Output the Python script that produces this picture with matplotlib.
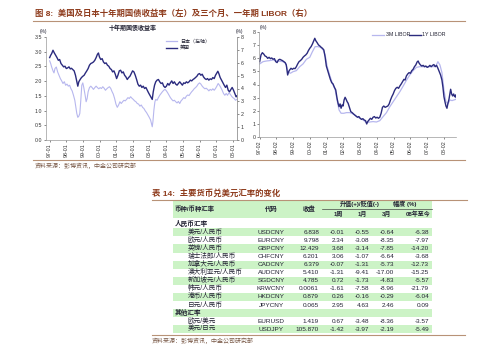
import numpy as np
import matplotlib
matplotlib.use('Agg')
import matplotlib.pyplot as plt
from matplotlib.patches import Rectangle
from matplotlib.lines import Line2D

plt.rcParams['font.family'] = ['Liberation Sans', 'Noto Sans CJK SC']

# ---- left chart: 10y government bond yields ----
us_year = [1997.00, 1997.06, 1997.12, 1997.20, 1997.28, 1997.36, 1997.44, 1997.52, 1997.60, 1997.68,
           1997.76, 1997.84, 1997.92, 1998.00, 1998.08, 1998.16, 1998.24, 1998.31, 1998.39, 1998.47,
           1998.55, 1998.63, 1998.69, 1998.75, 1998.83, 1998.91, 1998.99, 1999.07, 1999.15, 1999.23,
           1999.31, 1999.39, 1999.47, 1999.55, 1999.63, 1999.71, 1999.79, 1999.87, 1999.93, 1999.99,
           2000.07, 2000.15, 2000.23, 2000.31, 2000.39, 2000.47, 2000.55, 2000.63, 2000.71, 2000.78,
           2000.86, 2000.94, 2001.02, 2001.10, 2001.18, 2001.26, 2001.34, 2001.42, 2001.50, 2001.58,
           2001.66, 2001.74, 2001.82, 2001.90, 2001.98, 2002.06, 2002.14, 2002.22, 2002.30, 2002.38,
           2002.46, 2002.54, 2002.62, 2002.70, 2002.78, 2002.86, 2002.94, 2003.02, 2003.10, 2003.16,
           2003.22, 2003.30, 2003.37, 2003.45, 2003.53, 2003.61, 2003.69, 2003.77, 2003.85, 2003.93,
           2004.01, 2004.09, 2004.17, 2004.25, 2004.33, 2004.41, 2004.49, 2004.57, 2004.65, 2004.73,
           2004.81, 2004.89, 2004.97, 2005.05, 2005.13, 2005.21, 2005.29, 2005.37, 2005.45, 2005.53,
           2005.61, 2005.69, 2005.76, 2005.84, 2005.92, 2006.00, 2006.08, 2006.16, 2006.24, 2006.32,
           2006.40, 2006.48, 2006.56, 2006.64, 2006.72, 2006.80, 2006.88, 2006.96, 2007.04, 2007.10,
           2007.16, 2007.24, 2007.32, 2007.40, 2007.48, 2007.56, 2007.64, 2007.72, 2007.80, 2007.88,
           2007.96, 2008.04, 2008.12, 2008.20, 2008.24]
us_yield = [6.40, 6.58, 6.71, 6.97, 6.76, 6.58, 6.40, 6.19, 6.25, 5.94,
            5.81, 5.68, 5.73, 5.55, 5.60, 5.68, 5.52, 5.57, 5.47, 5.37,
            5.03, 4.52, 4.18, 4.52, 4.70, 4.85, 4.95, 5.03, 5.21, 5.37,
            5.55, 5.81, 5.94, 5.99, 6.06, 6.19, 6.40, 6.66, 6.76, 6.45,
            6.25, 6.32, 6.06, 5.94, 5.99, 5.81, 5.73, 5.55, 5.47, 5.29,
            5.37, 5.11, 4.77, 5.03, 5.37, 5.42, 5.21, 5.29, 5.03, 4.90,
            4.70, 4.85, 4.95, 5.16, 5.37, 5.29, 5.03, 4.70, 4.34, 4.18,
            4.26, 4.08, 4.18, 4.00, 4.08, 3.87, 3.66, 3.48, 3.30, 3.15,
            3.74, 4.26, 4.52, 4.65, 4.70, 4.52, 4.39, 4.44, 4.18, 4.08,
            4.18, 4.39, 4.26, 4.44, 4.59, 4.39, 4.52, 4.34, 4.26, 4.39,
            4.52, 4.39, 4.26, 4.44, 4.39, 4.52, 4.44, 4.52, 4.65, 4.59,
            4.70, 4.77, 4.85, 4.95, 5.11, 5.16, 5.03, 5.11, 4.90, 4.77,
            4.70, 4.77, 4.65, 4.75, 4.70, 4.85, 4.77, 5.03, 5.21, 5.34,
            5.16, 4.85, 4.65, 4.44, 4.26, 4.08, 4.26, 3.87, 3.74, 3.92,
            4.08, 3.87, 3.61, 3.35, 3.41]

jp_year = [1997.00, 1997.06, 1997.12, 1997.20, 1997.26, 1997.32, 1997.40, 1997.48, 1997.56, 1997.64,
           1997.72, 1997.80, 1997.88, 1997.96, 1998.04, 1998.12, 1998.20, 1998.27, 1998.35, 1998.43,
           1998.51, 1998.57, 1998.63, 1998.69, 1998.75, 1998.81, 1998.87, 1998.93, 1998.99, 1999.05,
           1999.13, 1999.19, 1999.25, 1999.31, 1999.39, 1999.47, 1999.55, 1999.63, 1999.71, 1999.79,
           1999.87, 1999.95, 2000.03, 2000.11, 2000.19, 2000.27, 2000.35, 2000.43, 2000.51, 2000.59,
           2000.67, 2000.75, 2000.82, 2000.90, 2000.98, 2001.06, 2001.14, 2001.22, 2001.30, 2001.38,
           2001.46, 2001.54, 2001.62, 2001.70, 2001.78, 2001.86, 2001.94, 2002.02, 2002.10, 2002.18,
           2002.26, 2002.34, 2002.42, 2002.50, 2002.58, 2002.66, 2002.74, 2002.82, 2002.90, 2002.98,
           2003.06, 2003.12, 2003.16, 2003.20, 2003.26, 2003.32, 2003.37, 2003.45, 2003.53, 2003.61,
           2003.69, 2003.77, 2003.85, 2003.93, 2004.01, 2004.09, 2004.17, 2004.25, 2004.33, 2004.41,
           2004.49, 2004.57, 2004.65, 2004.73, 2004.81, 2004.89, 2004.97, 2005.05, 2005.13, 2005.21,
           2005.29, 2005.37, 2005.45, 2005.53, 2005.61, 2005.69, 2005.76, 2005.84, 2005.92, 2006.00,
           2006.08, 2006.16, 2006.24, 2006.32, 2006.40, 2006.48, 2006.56, 2006.64, 2006.72, 2006.80,
           2006.88, 2006.96, 2007.04, 2007.12, 2007.20, 2007.28, 2007.36, 2007.44, 2007.52, 2007.60,
           2007.68, 2007.76, 2007.84, 2007.92, 2008.00, 2008.08, 2008.16, 2008.24]
jp_yield = [2.69, 2.60, 2.48, 2.35, 2.28, 2.43, 2.48, 2.31, 2.20, 2.09,
            2.01, 1.92, 1.98, 1.86, 1.90, 1.83, 1.86, 1.75, 1.67, 1.52,
            1.35, 1.13, 0.90, 0.77, 0.81, 0.90, 1.35, 1.86, 1.94, 1.78,
            1.52, 1.30, 1.41, 1.64, 1.78, 1.83, 1.78, 1.72, 1.78, 1.83,
            1.78, 1.74, 1.78, 1.75, 1.81, 1.76, 1.69, 1.74, 1.78, 1.81,
            1.75, 1.64, 1.56, 1.41, 1.22, 1.11, 1.19, 1.30, 1.24, 1.30,
            1.35, 1.33, 1.38, 1.44, 1.41, 1.47, 1.42, 1.38, 1.33, 1.30,
            1.24, 1.22, 1.15, 1.19, 1.11, 1.07, 0.99, 0.93, 0.85, 0.77,
            0.68, 0.54, 0.45, 0.62, 1.02, 1.30, 1.38, 1.35, 1.44, 1.52,
            1.58, 1.64, 1.69, 1.72, 1.67, 1.60, 1.52, 1.44, 1.38, 1.33,
            1.35, 1.30, 1.26, 1.31, 1.24, 1.33, 1.38, 1.44, 1.41, 1.49,
            1.53, 1.51, 1.58, 1.64, 1.69, 1.75, 1.78, 1.83, 1.90, 1.94,
            1.90, 1.83, 1.78, 1.74, 1.76, 1.72, 1.67, 1.72, 1.69, 1.74,
            1.69, 1.75, 1.83, 1.92, 1.86, 1.78, 1.69, 1.58, 1.52, 1.58,
            1.52, 1.60, 1.56, 1.49, 1.44, 1.41, 1.35, 1.38]

left_tick_labels = ['97-01', '98-01', '99-01', '00-01', '01-01', '02-01',
                    '03-01', '04-01', '05-01', '06-01', '07-01', '08-01']

# ---- right chart: LIBOR ----
y1_year = [1997.08, 1997.16, 1997.24, 1997.32, 1997.40, 1997.48, 1997.56, 1997.64, 1997.72, 1997.80,
           1997.88, 1997.96, 1998.04, 1998.12, 1998.20, 1998.28, 1998.36, 1998.44, 1998.52, 1998.60,
           1998.67, 1998.75, 1998.81, 1998.87, 1998.95, 1999.03, 1999.11, 1999.19, 1999.27, 1999.35,
           1999.43, 1999.51, 1999.59, 1999.67, 1999.75, 1999.83, 1999.91, 1999.99, 2000.07, 2000.15,
           2000.23, 2000.31, 2000.37, 2000.43, 2000.51, 2000.59, 2000.67, 2000.75, 2000.83, 2000.91,
           2000.99, 2001.06, 2001.14, 2001.22, 2001.30, 2001.38, 2001.46, 2001.54, 2001.62, 2001.70,
           2001.76, 2001.82, 2001.88, 2001.94, 2002.00, 2002.06, 2002.12, 2002.18, 2002.24, 2002.30,
           2002.36, 2002.44, 2002.52, 2002.60, 2002.68, 2002.76, 2002.84, 2002.92, 2003.00, 2003.08,
           2003.16, 2003.24, 2003.32, 2003.40, 2003.47, 2003.53, 2003.61, 2003.69, 2003.77, 2003.85,
           2003.93, 2004.01, 2004.09, 2004.17, 2004.25, 2004.33, 2004.41, 2004.49, 2004.57, 2004.65,
           2004.73, 2004.81, 2004.89, 2004.97, 2005.05, 2005.13, 2005.21, 2005.29, 2005.37, 2005.45,
           2005.53, 2005.61, 2005.69, 2005.76, 2005.84, 2005.92, 2006.00, 2006.08, 2006.16, 2006.24,
           2006.32, 2006.40, 2006.48, 2006.54, 2006.60, 2006.68, 2006.76, 2006.84, 2006.92, 2007.00,
           2007.08, 2007.16, 2007.24, 2007.32, 2007.40, 2007.48, 2007.56, 2007.64, 2007.72, 2007.80,
           2007.88, 2007.96, 2008.02, 2008.08, 2008.14, 2008.20, 2008.26, 2008.32, 2008.38, 2008.44,
           2008.48, 2008.54, 2008.60, 2008.66, 2008.72, 2008.78, 2008.80]
y1_libor = [5.73, 6.24, 6.41, 6.31, 6.16, 6.11, 5.98, 6.06, 5.96, 6.01,
            5.91, 5.96, 5.73, 5.66, 5.86, 5.91, 5.86, 5.81, 5.73, 5.66,
            5.48, 4.72, 4.97, 5.10, 5.23, 5.15, 5.23, 5.20, 5.35, 5.56,
            5.73, 5.81, 5.91, 6.06, 6.16, 6.24, 6.36, 6.57, 6.74, 6.87,
            7.07, 7.32, 7.50, 7.32, 7.17, 7.00, 6.92, 6.82, 6.74, 6.62,
            6.06, 5.40, 5.05, 4.72, 4.39, 4.14, 4.04, 3.79, 3.59, 2.95,
            2.58, 2.32, 2.53, 2.20, 2.45, 2.37, 2.83, 3.03, 2.88, 2.70,
            2.58, 2.27, 1.94, 1.87, 1.77, 1.69, 1.62, 1.52, 1.57, 1.44,
            1.36, 1.41, 1.31, 1.26, 1.01, 1.19, 1.31, 1.44, 1.36, 1.52,
            1.57, 1.46, 1.52, 1.44, 1.52, 1.82, 2.27, 2.37, 2.27, 2.32,
            2.37, 2.53, 2.83, 3.08, 3.28, 3.54, 3.71, 3.79, 3.71, 3.89,
            4.04, 4.22, 4.39, 4.34, 4.65, 4.80, 4.90, 4.85, 5.05, 5.15,
            5.35, 5.48, 5.71, 5.78, 5.61, 5.48, 5.40, 5.45, 5.35, 5.40,
            5.30, 5.35, 5.45, 5.35, 5.45, 5.51, 5.35, 5.45, 5.23, 4.97,
            4.72, 4.34, 3.79, 3.08, 2.70, 2.37, 2.20, 2.58, 2.88, 3.33,
            3.64, 3.28, 3.13, 3.28, 3.08, 3.21, 3.03]

m3_year = [1997.08, 1997.28, 1997.48, 1997.68, 1997.88, 1998.08, 1998.28, 1998.48, 1998.63, 1998.77,
           1998.91, 1999.07, 1999.27, 1999.47, 1999.67, 1999.87, 2000.07, 2000.23, 2000.39, 2000.55,
           2000.71, 2000.87, 2000.99, 2001.11, 2001.26, 2001.42, 2001.58, 2001.70, 2001.82, 2001.94,
           2002.10, 2002.26, 2002.46, 2002.66, 2002.86, 2003.06, 2003.26, 2003.45, 2003.65, 2003.85,
           2004.05, 2004.25, 2004.45, 2004.65, 2004.85, 2005.05, 2005.25, 2005.45, 2005.65, 2005.85,
           2006.04, 2006.24, 2006.44, 2006.64, 2006.84, 2007.04, 2007.24, 2007.44, 2007.60, 2007.72,
           2007.84, 2007.96, 2008.08, 2008.20, 2008.32, 2008.44, 2008.56, 2008.68, 2008.80]
m3_libor = [5.56, 5.73, 5.78, 5.81, 5.86, 5.78, 5.76, 5.73, 5.61, 4.97,
            4.85, 4.97, 5.05, 5.35, 5.56, 5.91, 6.06, 6.49, 6.87, 6.87,
            6.82, 6.62, 6.24, 5.35, 4.72, 4.09, 3.64, 2.83, 2.07, 1.82,
            1.82, 1.87, 1.87, 1.77, 1.57, 1.44, 1.31, 1.11, 1.16, 1.19,
            1.16, 1.26, 1.57, 1.87, 2.32, 2.70, 3.08, 3.46, 3.89, 4.34,
            4.72, 5.05, 5.30, 5.35, 5.35, 5.35, 5.35, 5.35, 5.40, 5.73,
            5.48, 4.90, 3.59, 2.70, 2.53, 2.83, 2.78, 2.83, 2.88]

right_tick_labels = ['97-02', '98-02', '99-02', '00-02', '01-02', '02-02',
                     '03-02', '04-02', '05-02', '06-02', '07-02', '08-02']

# ---- table ----
groups = ['人民币汇率', '其他汇率']
group_sizes = [10, 2]
pair_names = ['美元/人民币', '欧元/人民币', '英镑/人民币', '瑞士法郎/人民币', '加拿大元/人民币',
              '澳大利亚元/人民币', '新加坡元/人民币', '韩元/人民币', '港币/人民币', '日元/人民币',
              '欧元/美元', '美元/日元']
codes = ['USDCNY', 'EURCNY', 'GBPCNY', 'CHFCNY', 'CADCNY', 'AUDCNY', 'SGDCNY', 'KRWCNY',
         'HKDCNY', 'JPYCNY', 'EURUSD', 'USDJPY']
close = ['6.838', '9.798', '12.429', '6.201', '6.379', '5.410', '4.785', '0.0061',
         '0.879', '0.065', '1.419', '105.870']
chg_1w = ['-0.01', '2.34', '3.68', '3.06', '-0.07', '-1.31', '0.72', '-1.61', '0.26', '2.95', '0.67', '-1.42']
chg_1m = ['-0.55', '-3.08', '-3.14', '-1.07', '-1.31', '-9.41', '-1.73', '-7.58', '-0.16', '4.63', '-3.48', '-3.97']
chg_3m = ['-0.64', '-8.35', '-7.85', '-6.64', '-5.73', '-17.00', '-4.83', '-8.96', '-0.29', '2.46', '-8.36', '-2.19']
chg_ytd = ['-6.38', '-7.97', '-14.20', '-3.68', '-12.73', '-15.25', '-5.57', '-21.79', '-6.04', '0.09', '-3.57', '-5.49']

W, H = 500, 352
dark = '#2b2b7e'
light = '#b7b7ee'
brown = '#8e3b1c'
tan = '#b89277'
green = '#ccf3c6'
txt = '#222233'


def fx(x):
    return x / W


def fy(y):
    return 1 - y / H


fig = plt.figure(figsize=(5, 3.52), dpi=100)


def add_ax(x0, y0, x1, y1):
    return fig.add_axes([fx(x0), fy(y1), (x1 - x0) / W, (y1 - y0) / H])


def text(x, y, s, **kw):
    kw.setdefault('va', 'center')
    kw.setdefault('color', txt)
    fig.text(fx(x), fy(y), s, **kw)


def hline(x0, x1, y, color, lw=0.8):
    fig.add_artist(Line2D([fx(x0), fx(x1)], [fy(y), fy(y)], color=color, lw=lw))


def style_ax(ax):
    ax.tick_params(labelsize=3.8, length=1.5, width=0.4, colors='#333333', pad=1)
    for s in ax.spines.values():
        s.set_color('#9a9a9a')
        s.set_linewidth(0.5)
    ax.spines['top'].set_visible(False)


# headline
text(35, 14, '图 8:  美国及日本十年期国债收益率（左）及三个月、一年期 LIBOR（右）',
     fontsize=6, fontweight='bold', color=brown)
hline(33, 465, 20.7, tan)

# left chart
ax1 = add_ax(46, 37, 237, 140)
ax1.plot(jp_year, jp_yield, color=light, lw=0.8)
ax1.set_ylim(0, 3.5)
ax1.set_yticks(np.arange(0, 3.51, 0.5))
ax1.set_yticklabels(['%.1f' % v for v in np.arange(0, 3.51, 0.5)])
ax1.set_xlim(1996.78, 2008.25)
ax1.set_xticks(range(1997, 2009))
ax1.set_xticklabels(left_tick_labels, rotation=90, fontsize=3.2)
style_ax(ax1)
ax1b = ax1.twinx()
ax1b.plot(us_year, us_yield, color=dark, lw=1.0)
ax1b.set_ylim(0, 8)
ax1b.set_yticks(range(0, 9))
style_ax(ax1b)
ax1b.spines['left'].set_visible(False)
ax1b.spines['bottom'].set_visible(False)

text(133, 28, '十年期国债收益率', fontsize=4.3, fontweight='bold', ha='center')
text(43, 31.5, '(%)', fontsize=3.5, ha='center')
text(239, 31.5, '(%)', fontsize=3.5, ha='center')
fig.add_artist(Line2D([fx(166), fx(177)], [fy(41), fy(41)], color=light, lw=0.9))
fig.add_artist(Line2D([fx(166), fx(177)], [fy(47.5), fy(47.5)], color=dark, lw=1.0))
text(180, 41, '日本（左轴）', fontsize=3.6)
text(180, 47.5, '美国', fontsize=3.6)

# right chart
ax2 = add_ax(259, 31.7, 456, 137.3)
ax2.plot(m3_year, m3_libor, color=light, lw=0.9)
ax2.plot(y1_year, y1_libor, color=dark, lw=1.0)
ax2.set_ylim(0, 8)
ax2.set_yticks(range(0, 9))
ax2.set_xlim(1997.04, 2008.80)
ax2.set_xticks([1997.08 + i for i in range(12)])
ax2.set_xticklabels(right_tick_labels, rotation=90, fontsize=3.2)
style_ax(ax2)
ax2.spines['right'].set_visible(False)
text(263, 28, '(%)', fontsize=3.5, ha='center')
fig.add_artist(Line2D([fx(372), fx(384)], [fy(35), fy(35)], color=light, lw=0.9))
text(385.5, 35, '3M LIBOR', fontsize=3.8)
fig.add_artist(Line2D([fx(409), fx(421)], [fy(35), fy(35)], color=dark, lw=1.0))
text(422.5, 35, '1Y LIBOR', fontsize=3.8)

hline(33, 465, 160, tan)
text(35, 166, '资料来源：彭博资讯，中金公司研究部', fontsize=4.3, color='#7a5a48')

# table
text(152, 193, '表 14:  主要货币兑美元汇率的变化', fontsize=6, fontweight='bold', color=brown)
hline(152, 467, 199.5, tan)
fig.add_artist(Rectangle((fx(173), fy(217.5)), (432 - 173) / W, 17.5 / H,
                         transform=fig.transFigure, color=green, lw=0))
text(175, 209, '币种/币种汇率', fontsize=4.6, fontweight='bold')
text(271, 209, '代码', fontsize=4.6, fontweight='bold', ha='center')
text(309, 209, '收盘', fontsize=4.6, fontweight='bold', ha='center')
text(360, 204, '升值(+)/贬值(-)', fontsize=4.4, fontweight='bold', ha='center')
text(405, 204, '幅度 (%)', fontsize=4.4, fontweight='bold', ha='center')
hline(322, 432, 208.7, '#444444', lw=0.5)
text(338, 213.5, '1周', fontsize=4.3, fontweight='bold', ha='center')
text(362, 213.5, '1月', fontsize=4.3, fontweight='bold', ha='center')
text(387, 213.5, '3月', fontsize=4.3, fontweight='bold', ha='center')
text(418, 213.5, '08年至今', fontsize=4.3, fontweight='bold', ha='center')

row_h = 8.08
text(175, 224, groups[0], fontsize=4.8, fontweight='bold')
slot = 0
k = 0
for g, n in zip(groups, group_sizes):
    if g != groups[0]:
        y = 232.3 + slot * row_h
        if slot % 2 == 0:
            fig.add_artist(Rectangle((fx(173), fy(y + row_h / 2)), (432 - 173) / W, row_h / H,
                                     transform=fig.transFigure, color=green, lw=0))
        text(175, y, g, fontsize=4.8, fontweight='bold')
        slot += 1
    for i in range(n):
        y = 232.3 + slot * row_h
        if slot % 2 == 0:
            fig.add_artist(Rectangle((fx(173), fy(y + row_h / 2)), (432 - 173) / W, row_h / H,
                                     transform=fig.transFigure, color=green, lw=0))
        text(188, y, pair_names[k], fontsize=4.8)
        text(271, y, codes[k], fontsize=4.6, ha='center')
        text(319, y, close[k], fontsize=4.6, ha='right')
        text(344, y, chg_1w[k], fontsize=4.6, ha='right')
        text(369, y, chg_1m[k], fontsize=4.6, ha='right')
        text(394, y, chg_3m[k], fontsize=4.6, ha='right')
        text(429, y, chg_ytd[k], fontsize=4.6, ha='right')
        slot += 1
        k += 1

hline(152, 465, 334.5, tan)
text(152, 340.5, '资料来源：彭博资讯，中金公司研究部', fontsize=4.3, color='#7a5a48')

fig.savefig('out.png', dpi=100)
